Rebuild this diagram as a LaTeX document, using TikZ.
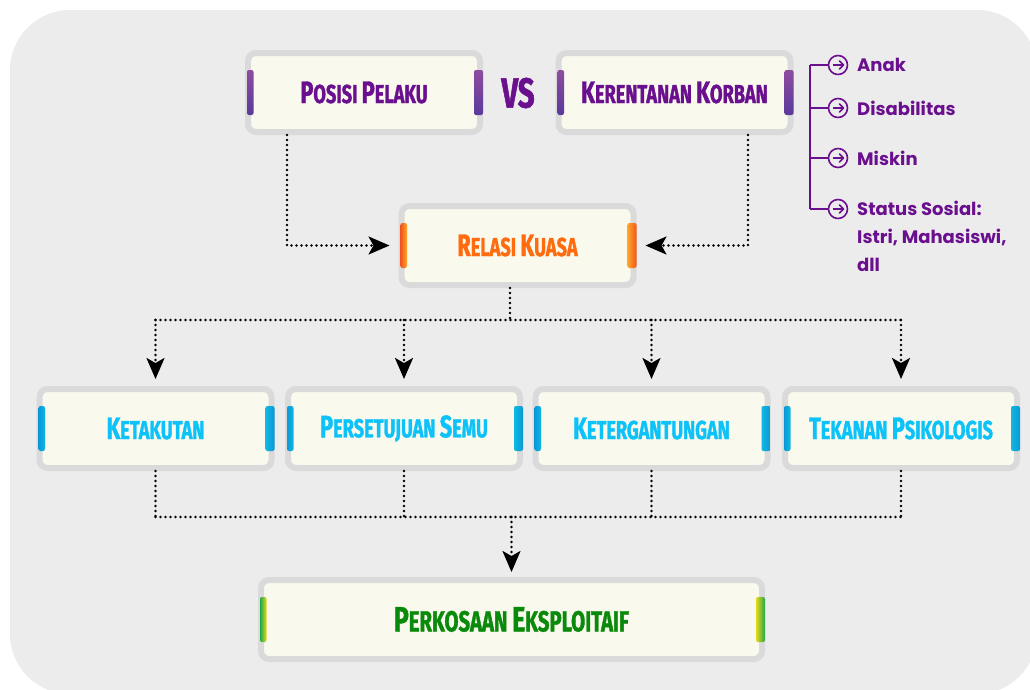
\documentclass[tikz,border=0pt]{standalone}
\usepackage{fontspec}
\setmainfont{Poppins}
\newfontfamily\titlefont[FakeStretch=0.7,FakeBold=1.3]{Fira Sans}
\newfontfamily\listfont{Poppins}
\usetikzlibrary{arrows.meta,calc}
\definecolor{bgc}{HTML}{ECECEC}
\definecolor{boxgray}{HTML}{DADADA}
\definecolor{cream}{HTML}{F9F9EE}
\definecolor{purp}{HTML}{6A0F8E}
\definecolor{orangeT}{HTML}{FF6B0F}
\definecolor{blueT}{HTML}{0CC2F8}
\definecolor{greenT}{HTML}{0A8A0A}
\definecolor{pbTop}{HTML}{8E4C9E}
\definecolor{pbBot}{HTML}{5A3A9C}
\definecolor{obOut}{HTML}{F0561E}
\definecolor{obIn}{HTML}{FFA526}
\definecolor{bbOut}{HTML}{0A98D6}
\definecolor{bbIn}{HTML}{10B8E2}
\definecolor{gbG}{HTML}{1FA84A}
\definecolor{gbY}{HTML}{E8D81C}
\newcommand\ttl{\titlefont\bfseries\fontsize{26}{26}\selectfont}
\newcommand\B[1]{{\fontsize{31}{31}\selectfont #1}}
\newcommand\bars[3]{%
  \shade[rounded corners=2pt,#2] ($(#1.west)+(2,-22.5)$) rectangle ($(#1.west)+(8.5,22.5)$);
  \shade[rounded corners=2pt,#3] ($(#1.east)+(-9,-22.5)$) rectangle ($(#1.east)+(0,22.5)$);}
\tikzset{
  box/.style={draw=boxgray, line width=6pt, fill=cream, rounded corners=8pt,
    minimum width=232pt, minimum height=79pt, inner sep=0pt, font=\ttl},
  conn/.style={line width=2.6pt, dash pattern=on 0pt off 5pt, line cap=round, black},
  tip/.style={-{Stealth[length=21pt,width=18pt,inset=5pt]}},
  listline/.style={purp, line width=2.4pt},
  listtxt/.style={font=\listfont\bfseries\fontsize{18}{28}\selectfont, text=purp, inner sep=0pt},
}
\begin{document}
\begin{tikzpicture}[x=1pt,y=-1pt]
\useasboundingbox (0,0) rectangle (1030,689);
\clip (0,0) rectangle (1030,689);
\fill[white] (0,0) rectangle (1030,689);
\fill[bgc, rounded corners=60pt] (10,10) rectangle (1037,694);

% boxes
\node[box, text=purp] (pp) at (364,92.5) {\B{P}OSISI \B{P}ELAKU};
\node[box, text=purp] (kk) at (674.5,92.5) {\B{K}ERENTANAN \B{K}ORBAN};
\node[font=\titlefont\bfseries\fontsize{42}{42}\selectfont, text=purp] (vs) at (518,93) {VS};
\node[box, text=orangeT] (rk) at (517.5,245.5) {\B{R}ELASI \B{K}UASA};
\node[box, text=blueT] (k1) at (155.5,428.5) {\B{K}ETAKUTAN};
\node[box, text=blueT] (k2) at (404,428.5) {\B{P}ERSETUJUAN \B{S}EMU};
\node[box, text=blueT] (k3) at (651.5,428.5) {\B{K}ETERGANTUNGAN};
\node[box, text=blueT] (k4) at (901,428.5) {\B{T}EKANAN \B{P}SIKOLOGIS};
\node[box, text=greenT, minimum width=501pt, font=\titlefont\bfseries\fontsize{29}{29}\selectfont] (pe) at (511.5,619.5) {{\fontsize{35}{35}\selectfont P}ERKOSAAN {\fontsize{35}{35}\selectfont E}KSPLOITAIF};

% side bars
\bars{pp}{top color=pbTop, bottom color=pbBot}{top color=pbTop, bottom color=pbBot}
\bars{kk}{top color=pbTop, bottom color=pbBot}{top color=pbTop, bottom color=pbBot}
\bars{rk}{left color=obOut, right color=obIn}{left color=obIn, right color=obOut}
\foreach \n in {k1,k2,k3,k4}{
  \bars{\n}{left color=bbOut, right color=bbIn}{left color=bbIn, right color=bbOut}
}
\bars{pe}{left color=gbG, right color=gbY}{left color=gbY, right color=gbG}

% connectors
\draw[conn, tip, shorten >=9pt] ([xshift=-77pt]pp.south) |- (rk.west);
\draw[conn, tip, shorten >=9pt] ([xshift=73.5pt]kk.south) |- (rk.east);
\draw[conn] ([xshift=-7.5pt]rk.south) -- ++(0,32) coordinate (hub1);
\draw[conn] (k1.north |- hub1) -- (k4.north |- hub1);
\foreach \n in {k1,k2,k3,k4}{
  \draw[conn, tip, shorten >=7pt] (\n.north |- hub1) -- (\n.north);
}
\coordinate (hub2) at ([yshift=60pt]pe.north);
\foreach \n in {k1,k2,k3,k4}{
  \draw[conn] (\n.south) -- (\n.south |- hub2);
}
\draw[conn] (k1.south |- hub2) -- (k4.south |- hub2);
\draw[conn, tip, shorten >=5pt] (hub2) -- (pe.north);

% list
\coordinate (lt) at (810,65);
\coordinate (lb) at (810,209);
\draw[listline] (lt) -- (lb);
\foreach \y/\nm in {65/c1,108/c2,158/c3,209/c4}{
  \node[circle, draw=purp, line width=1.6pt, minimum size=19pt, inner sep=0pt] (\nm) at (838,\y) {};
  \draw[listline] (lt |- \nm) -- (\nm.west);
  \draw[purp, line width=1.6pt] ([xshift=-5pt]\nm.center) -- ([xshift=5pt]\nm.center);
  \draw[purp, line width=1.6pt, line join=round, line cap=round] ([xshift=1.5pt,yshift=4pt]\nm.center) -- ([xshift=5.5pt]\nm.center) -- ([xshift=1.5pt,yshift=-4pt]\nm.center);
}
\node[listtxt, anchor=west] (l1) at (857,65) {Anak};
\node[listtxt, anchor=west] (l2) at (857,108) {Disabilitas};
\node[listtxt, anchor=west] (l3) at (857,158) {Miskin};
\node[listtxt, anchor=north west, align=left] (l4) at (857,201) {Status Sosial:\\Istri, Mahasiswi,\\dll};
\end{tikzpicture}
\end{document}
